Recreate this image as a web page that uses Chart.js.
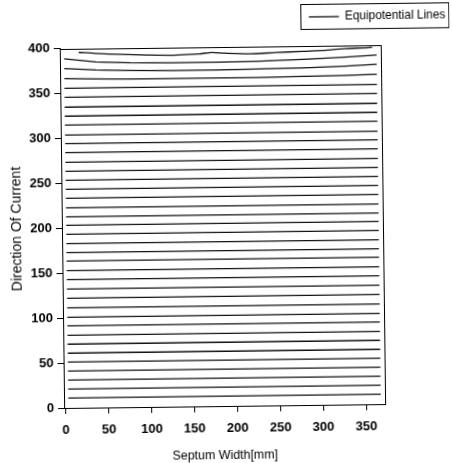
<!DOCTYPE html>
<html>
<head>
<meta charset="utf-8">
<script src="https://cdn.jsdelivr.net/npm/chart.js@4.4.1/dist/chart.umd.min.js"></script>
<style>
  html, body { margin: 0; padding: 0; background: #fff; }
  #wrap { width: 452px; height: 463px; overflow: hidden; background: #fff; }
  /* the scanned figure sits slightly tilted */
  canvas { display: block; transform: rotate(-0.7deg); }
</style>
</head>
<body>
<div id="wrap"><canvas id="myChart" width="452" height="463"></canvas></div>
<script>
// straight equipotential lines, one level each
var flatX = [3, 367];
var flatLevels = [11, 21, 31, 41, 51, 61, 71, 81, 91.5, 101, 111.5, 122, 132.5,
  143, 153, 163.5, 173, 183, 193.5, 203.5, 213, 223, 233.5, 243.5, 253.5, 263.5,
  273.5, 284.5, 294.5, 304, 315, 325, 335, 346, 356];

// upper lines bend a bit near both ends
var bentX = [3, 40, 80, 130, 180, 230, 280, 330, 367];
var bentLines = [
  [367, 366, 365.5, 365.5, 365.5, 365.5, 366, 366.5, 367.5],
  [378, 376, 375, 374.5, 374.5, 375, 375.5, 377, 378.5],
  [389, 385, 383.5, 383, 383, 383.5, 385, 387, 389]
];

// top line, wavy under the upper edge
var topX = [20, 40, 70, 100, 130, 160, 175, 190, 220, 250, 280, 310, 330, 352, 362];
var topY = [396, 394.5, 393, 392, 391.5, 392.5, 394, 393, 392, 393, 394, 395, 396.5, 397, 397.5];

var xTickValues = [0, 50, 100, 150, 200, 250, 300, 350];
var yTickValues = [0, 50, 100, 150, 200, 250, 300, 350, 400];

function toPoints(xs, ys) {
  return xs.map(function (x, i) { return { x: x, y: ys[i] }; });
}

var datasets = [];
flatLevels.forEach(function (lv) {
  datasets.push({ data: flatX.map(function (x) { return { x: x, y: lv }; }) });
});
bentLines.forEach(function (ys) {
  datasets.push({ data: toPoints(bentX, ys) });
});
datasets.push({ data: toPoints(topX, topY), tension: 0.3 });
datasets[0].label = 'Equipotential Lines';
datasets.forEach(function (d) {
  d.borderColor = '#111';
  d.backgroundColor = '#111';
  d.borderWidth = 1.3;
  d.pointRadius = 0;
  d.fill = false;
});

// box round the plot and round the legend
var framePlugin = {
  id: 'frame',
  afterDraw: function (chart) {
    var ctx = chart.ctx, a = chart.chartArea;
    ctx.save();
    ctx.strokeStyle = '#000';
    ctx.lineWidth = 1;
    ctx.strokeRect(Math.round(a.left) + 0.5, Math.round(a.top) + 0.5,
      Math.round(a.right - a.left), Math.round(a.bottom - a.top));
    var hit = chart.legend.legendHitBoxes[0];
    if (hit) {
      var l = Math.round(hit.left) - 8.5, t = Math.round(hit.top) - 6.5;
      ctx.strokeRect(l, t, 451.5 - l, hit.height + 13);
    }
    ctx.restore();
  }
};

function setTicks(values) {
  return function (scale) {
    scale.ticks = values.map(function (v) { return { value: v }; });
  };
}

Chart.defaults.font.family = "'Liberation Sans', Arial, sans-serif";
Chart.defaults.color = '#000';

var config = {
  type: 'line',
  data: { datasets: datasets },
  options: {
    responsive: false,
    animation: false,
    devicePixelRatio: 1,
    layout: { padding: { top: 8, left: 0, right: 0, bottom: 0 } },
    plugins: {
      legend: {
        position: 'top',
        align: 'end',
        labels: {
          filter: function (item) { return item.datasetIndex === 0; },
          usePointStyle: true,
          pointStyle: 'line',
          pointStyleWidth: 30,
          padding: 4,
          color: '#000',
          font: { size: 11.9 }
        }
      },
      tooltip: { enabled: false }
    },
    scales: {
      x: {
        type: 'linear',
        position: 'bottom',
        min: -2,
        max: 372,
        afterBuildTicks: setTicks(xTickValues),
        afterFit: function (s) { s.height = 57; },
        grid: { display: true, drawOnChartArea: false, drawTicks: true, tickLength: 6, color: '#000' },
        border: { display: true, color: '#000', width: 1 },
        ticks: { color: '#000', font: { size: 13, weight: 'bold' }, padding: 9, maxRotation: 0, autoSkip: false },
        title: { display: true, text: 'Septum Width[mm]', color: '#000', font: { size: 12.4 }, padding: { top: 0, bottom: 0 } }
      },
      x2: {
        type: 'linear',
        position: 'top',
        ticks: { display: false },
        grid: { display: false },
        border: { display: false },
        afterFit: function (s) { s.height = 13; }
      },
      y: {
        type: 'linear',
        position: 'left',
        min: 0,
        max: 400,
        afterBuildTicks: setTicks(yTickValues),
        afterFit: function (s) { s.width = 62; },
        grid: { display: true, drawOnChartArea: false, drawTicks: true, tickLength: 6, color: '#000' },
        border: { display: true, color: '#000', width: 1 },
        ticks: { color: '#000', font: { size: 13, weight: 'bold' }, padding: 4, autoSkip: false },
        title: { display: true, text: 'Direction Of Current', color: '#000', font: { size: 14 }, padding: { top: 9, bottom: 0 } }
      },
      y2: {
        type: 'linear',
        position: 'right',
        ticks: { display: false },
        grid: { display: false },
        border: { display: false },
        afterFit: function (s) { s.width = 69; }
      }
    }
  },
  plugins: [framePlugin]
};

var myChart = new Chart(document.getElementById('myChart'), config);
</script>
</body>
</html>
